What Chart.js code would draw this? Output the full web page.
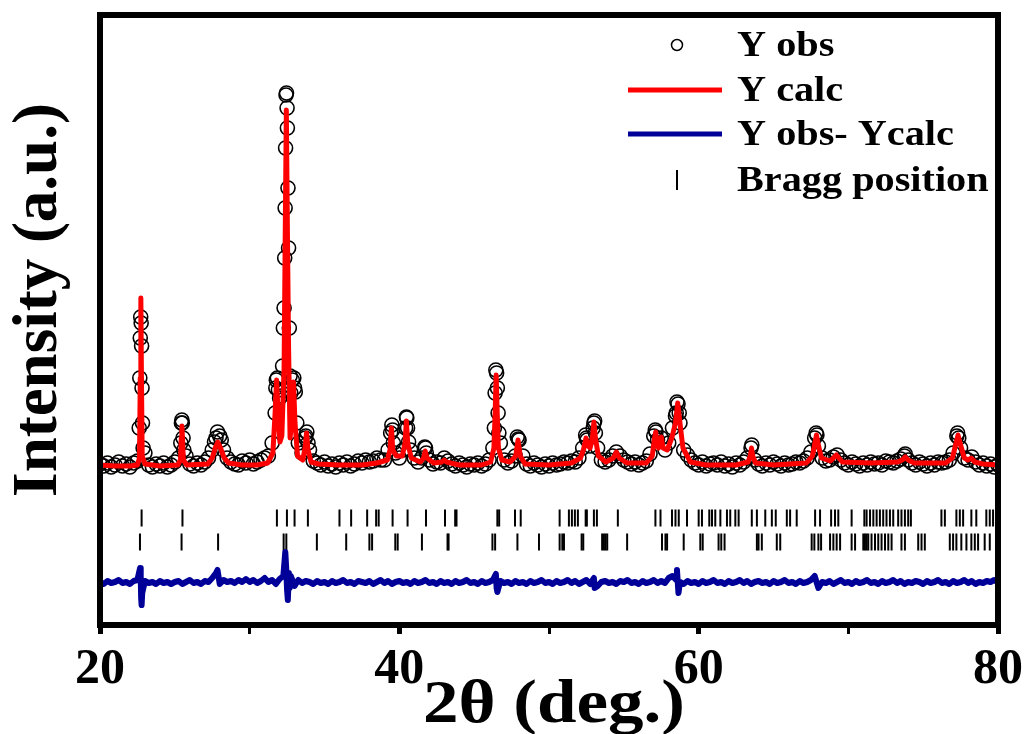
<!DOCTYPE html>
<html>
<head>
<meta charset="utf-8">
<script src="https://cdn.jsdelivr.net/npm/chart.js@4.4.0/dist/chart.umd.min.js"></script>
<style>
  html, body { margin: 0; padding: 0; background: #fff; }
</style>
</head>
<body>
<canvas id="xrdChart" width="1029" height="734"></canvas>
<script>
// scan grid for the observed and difference patterns (2theta, deg.)
const scanStart = 20;
const scanStep = 0.25;

// observed intensity on the scan grid, 20.00 .. 80.00 (10 values per row = 2.5 deg)
const obsGrid = [
  164, 162, 165, 161, 163, 166, 162, 164, 161, 165,
  167, 305, 175, 163, 161, 164, 162, 165, 161, 163,
  166, 170, 205, 172, 164, 162, 165, 163, 166, 170,
  178, 190, 192, 178, 170, 166, 164, 163, 167, 165,
  168, 164, 166, 168, 170, 172, 185, 240, 230, 300,
  520, 235, 240, 185, 175, 192, 178, 167, 165, 163,
  166, 162, 164, 161, 165, 163, 166, 162, 164, 167,
  165, 168, 166, 167, 170, 168, 168, 178, 203, 175,
  170, 178, 210, 178, 170, 166, 170, 180, 168, 164,
  166, 165, 170, 167, 164, 162, 165, 163, 161, 164,
  163, 165, 162, 164, 168, 180, 255, 185, 168, 165,
  167, 172, 188, 172, 164, 162, 165, 163, 161, 164,
  162, 165, 163, 164, 166, 165, 167, 166, 170, 180,
  190, 182, 205, 180, 168, 166, 168, 172, 176, 172,
  168, 166, 164, 166, 163, 165, 167, 174, 192, 188,
  190, 178, 185, 200, 215, 205, 178, 173, 168, 165,
  163, 166, 162, 164, 165, 163, 166, 162, 164, 161,
  165, 163, 166, 170, 180, 168, 164, 162, 165, 163,
  166, 164, 162, 165, 163, 164, 166, 165, 167, 170,
  176, 190, 182, 170, 167, 168, 171, 173, 168, 165,
  163, 166, 164, 162, 165, 163, 166, 164, 165, 163,
  167, 166, 165, 167, 169, 172, 168, 165, 163, 166,
  164, 162, 165, 163, 166, 165, 166, 168, 175, 192,
  180, 170, 168, 171, 166, 163, 165, 162, 164, 161,
  163
];

// extra observed points measured on the steep peak flanks
const obsPeaks = [
  [22.62, 200], [22.66, 250], [22.69, 290], [22.72, 311], [22.78, 282], [22.81, 240], [22.84, 205], [22.88, 180],
  [25.40, 185], [25.44, 205], [25.47, 208], [25.55, 190], [25.60, 178],
  [27.65, 186], [27.85, 196], [28.10, 188],
  [31.70, 215], [31.78, 248], [31.85, 250], [31.92, 238], [32.10, 232], [32.20, 262], [32.30, 320],
  [32.34, 370], [32.37, 420], [32.40, 480], [32.43, 533], [32.46, 535], [32.52, 500], [32.56, 440],
  [32.60, 380], [32.65, 300], [32.70, 252], [32.85, 248], [32.95, 250], [33.05, 236], [33.15, 205],
  [33.72, 190], [33.82, 196], [33.90, 185],
  [39.42, 195], [39.55, 198], [39.60, 185],
  [40.42, 200], [40.47, 211], [40.55, 200], [40.62, 186],
  [41.70, 181], [41.80, 175],
  [46.35, 200], [46.40, 235], [46.45, 258], [46.55, 240], [46.60, 215], [46.65, 195],
  [47.88, 191], [47.95, 189],
  [52.45, 193], [52.55, 188], [52.95, 200], [53.05, 207], [53.10, 195],
  [57.10, 198], [57.15, 196],
  [58.45, 212], [58.55, 226], [58.62, 224], [58.70, 215],
  [63.55, 183], [67.85, 195], [67.90, 193], [73.80, 174], [77.30, 195], [77.38, 190]
];

// calculated profile
const calcPoints = [
  [20.0, 163], [21.0, 162], [22.0, 162], [22.5, 163], [22.64, 170], [22.69, 250], [22.73, 330], [22.77, 250],
  [22.82, 172], [23.0, 164], [24.0, 162], [25.2, 163], [25.38, 168], [25.43, 190], [25.47, 202], [25.51, 190],
  [25.57, 168], [25.8, 163], [27.2, 164], [27.5, 170], [27.7, 180], [27.87, 186], [28.05, 180], [28.3, 170],
  [28.6, 165], [29.5, 163], [30.5, 163], [31.2, 165], [31.55, 175], [31.7, 215], [31.8, 248], [31.9, 215],
  [32.02, 186], [32.15, 192], [32.3, 260], [32.38, 400], [32.45, 518], [32.52, 400], [32.6, 280], [32.7, 190],
  [32.8, 205], [32.93, 246], [33.03, 205], [33.2, 172], [33.55, 168], [33.7, 180], [33.8, 195], [33.9, 178],
  [34.1, 166], [34.6, 164], [36.0, 163], [37.5, 163], [38.5, 165], [39.2, 168], [39.38, 178], [39.47, 200],
  [39.56, 178], [39.8, 172], [40.2, 172], [40.38, 185], [40.47, 207], [40.56, 185], [40.8, 170], [41.4, 166],
  [41.62, 170], [41.73, 177], [41.84, 170], [42.3, 165], [42.85, 166], [43.0, 168], [43.15, 166], [44.0, 163],
  [45.5, 163], [46.1, 166], [46.32, 180], [46.4, 215], [46.47, 253], [46.54, 215], [46.62, 180], [46.85, 168],
  [47.4, 166], [47.78, 172], [47.93, 188], [48.08, 172], [48.4, 164], [50.0, 163], [51.5, 165], [52.1, 170],
  [52.3, 178], [52.47, 190], [52.6, 182], [52.75, 180], [52.9, 190], [53.0, 206], [53.1, 190], [53.3, 172],
  [53.8, 166], [54.3, 170], [54.5, 176], [54.7, 170], [55.2, 165], [56.5, 165], [56.9, 172], [57.05, 190],
  [57.13, 196], [57.22, 185], [57.32, 180], [57.5, 191], [57.62, 180], [57.9, 178], [58.2, 190], [58.45, 205],
  [58.6, 225], [58.75, 205], [58.95, 180], [59.2, 173], [59.45, 166], [60.5, 163], [62.5, 163], [63.3, 166],
  [63.45, 172], [63.53, 180], [63.61, 172], [63.8, 165], [65.0, 163], [67.2, 165], [67.6, 172], [67.77, 185],
  [67.87, 193], [67.97, 185], [68.2, 170], [68.8, 167], [69.2, 173], [69.6, 166], [71.5, 165], [73.3, 166],
  [73.6, 168], [73.8, 171], [74.0, 168], [74.4, 165], [76.5, 165], [76.95, 170], [77.2, 185], [77.33, 193],
  [77.46, 185], [77.75, 170], [78.0, 168], [78.2, 170], [78.45, 166], [79.0, 164], [80.0, 163]
];

// difference (obs - calc), offset below the pattern, on the scan grid
const diffGrid = [
  46, 44, 47, 45, 46, 48, 45, 46, 44, 47,
  48, 30, 47, 45, 46, 44, 47, 45, 46, 44,
  46, 47, 44, 46, 48, 45, 46, 44, 47, 46,
  50, 55, 44, 48, 46, 47, 45, 48, 46, 49,
  46, 48, 45, 47, 50, 46, 48, 44, 49, 52,
  38, 52, 42, 48, 45, 47, 46, 44, 47, 45,
  46, 44, 47, 45, 46, 48, 45, 46, 44, 47,
  46, 45, 47, 44, 46, 48, 45, 47, 44, 46,
  47, 45, 46, 44, 47, 45, 46, 48, 45, 46,
  44, 47, 45, 46, 44, 47, 45, 46, 48, 45,
  46, 44, 47, 45, 46, 48, 40, 47, 45, 46,
  44, 47, 45, 46, 44, 47, 45, 46, 48, 45,
  46, 44, 47, 45, 46, 48, 45, 47, 44, 46,
  48, 44, 50, 42, 46, 47, 45, 46, 44, 47,
  46, 48, 45, 46, 44, 47, 45, 46, 48, 45,
  47, 45, 50, 52, 48, 46, 44, 47, 45, 46,
  44, 47, 45, 46, 48, 45, 46, 44, 47, 45,
  46, 48, 45, 47, 44, 46, 47, 45, 46, 44,
  47, 45, 46, 48, 45, 46, 44, 47, 45, 46,
  48, 52, 40, 46, 45, 47, 44, 46, 48, 45,
  46, 44, 47, 45, 46, 48, 45, 46, 44, 47,
  45, 46, 48, 45, 47, 44, 46, 45, 47, 46,
  44, 47, 45, 46, 48, 45, 46, 44, 47, 45,
  46, 48, 45, 47, 44, 46, 45, 47, 46, 48,
  46
];

const diffPeaks = [
  [22.68, 60], [22.72, 52], [22.78, 23], [22.82, 35],
  [27.85, 58],
  [32.38, 76], [32.44, 60], [32.55, 28], [32.62, 55], [32.68, 40],
  [46.45, 54], [46.55, 36],
  [53.05, 40],
  [58.55, 58], [58.65, 35]
];

// Bragg reflections, two phases
const braggPhase1 = [
  22.78, 25.51, 31.82, 32.49, 33.0, 33.89, 36.0, 36.78, 37.85, 38.45, 38.62, 39.55, 40.55, 41.78,
  43.05, 43.73, 43.82, 46.55, 46.67, 47.73, 48.11, 50.71, 51.33, 51.53, 51.73, 51.93, 52.45, 52.53,
  53.0, 53.2, 54.6, 57.11, 57.45, 58.22, 58.45, 58.67, 59.22, 60.0, 60.22, 60.71, 60.89, 61.11,
  61.45, 61.89, 62.11, 62.45, 62.67, 63.55, 63.89, 64.45, 64.89, 65.15, 65.89, 66.11, 66.55, 67.78,
  68.11, 68.85, 69.11, 69.33, 70.22, 71.07, 71.22, 71.45, 71.67, 71.89, 72.11, 72.33, 72.55, 72.78,
  73.0, 73.33, 73.55, 73.78, 74.0, 74.18, 76.22, 76.45, 77.22, 77.45, 77.67, 78.22, 78.55, 79.22,
  79.45, 79.67
];
const braggPhase2 = [
  22.67, 25.45, 27.89, 32.27, 32.45, 34.49, 36.45, 38.0, 38.18, 39.73, 39.89, 41.51, 43.22, 43.29,
  46.22, 46.4, 47.89, 49.33, 50.71, 50.89, 51.0, 52.18, 52.29, 53.55, 53.67, 53.78, 53.89, 55.22,
  57.55, 57.78, 57.89, 59.0, 60.11, 60.27, 61.33, 61.51, 61.73, 63.89, 64.0, 64.22, 65.22, 65.45,
  67.55, 67.73, 68.0, 68.18, 68.78, 69.0, 69.22, 69.45, 70.22, 70.45, 71.0, 71.11, 71.22, 71.33,
  71.55, 71.78, 72.0, 72.22, 72.45, 72.67, 72.89, 73.55, 73.78, 74.67, 74.89, 75.11, 76.78, 77.0,
  77.22, 77.55, 77.89, 78.22, 78.45, 78.67, 79.11, 79.45
];

const xTicks = [20, 40, 60, 80];
const legendLabels = ["Y obs", "Y calc", "Y obs- Ycalc", "Bragg position"];

const FONT = '"Liberation Serif", "Times New Roman", serif';
const RED = "#ff0000";
const BLUE = "#000099";

// tick rows sit between the pattern and the difference curve
const row1Level = 110;
const row2Level = 86;

const obsData = obsGrid.map((y, i) => ({ x: scanStart + i * scanStep, y }))
  .concat(obsPeaks.map(p => ({ x: p[0], y: p[1] })));
const diffData = diffGrid.map((y, i) => ({ x: scanStart + i * scanStep, y }))
  .concat(diffPeaks.map(p => ({ x: p[0], y: p[1] })))
  .sort((a, b) => a.x - b.x);

// frame, axis titles and legend
const decorations = {
  id: "decorations",
  afterDraw(chart) {
    const { ctx, chartArea: a } = chart;
    ctx.save();
    ctx.strokeStyle = "#000";
    ctx.lineWidth = 6;
    ctx.strokeRect(a.left, a.top, a.right - a.left, a.bottom - a.top);

    ctx.fillStyle = "#000";
    // y title
    ctx.save();
    ctx.translate(56, 300);
    ctx.rotate(-Math.PI / 2);
    ctx.font = "bold 63px " + FONT;
    ctx.textAlign = "center";
    ctx.textBaseline = "alphabetic";
    ctx.fillText("Intensity (a.u.)", 0, 0);
    ctx.restore();

    // x title
    ctx.save();
    ctx.font = "bold 62px " + FONT;
    const t = "2\u03b8 (deg.)";
    const sx = 262 / ctx.measureText(t).width;
    ctx.translate(554, 722);
    ctx.scale(sx, 1);
    ctx.textAlign = "center";
    ctx.textBaseline = "alphabetic";
    ctx.fillText(t, 0, 0);
    ctx.restore();

    // legend
    const rows = [45, 90, 134, 180];
    ctx.lineCap = "butt";
    ctx.lineWidth = 1.5;
    ctx.beginPath();
    ctx.arc(677, rows[0], 5.5, 0, Math.PI * 2);
    ctx.stroke();
    ctx.lineWidth = 5;
    ctx.strokeStyle = RED;
    ctx.beginPath(); ctx.moveTo(628, rows[1]); ctx.lineTo(722, rows[1]); ctx.stroke();
    ctx.strokeStyle = BLUE;
    ctx.beginPath(); ctx.moveTo(628, rows[2]); ctx.lineTo(722, rows[2]); ctx.stroke();
    ctx.strokeStyle = "#000";
    ctx.lineWidth = 2;
    ctx.beginPath(); ctx.moveTo(677, rows[3] - 10); ctx.lineTo(677, rows[3] + 10); ctx.stroke();

    ctx.font = "bold 35px " + FONT;
    ctx.textAlign = "left";
    ctx.textBaseline = "middle";
    legendLabels.forEach((lab, i) => {
      ctx.save();
      ctx.translate(737, rows[i] + 2);
      ctx.scale(1.15, 1);
      ctx.fillText(lab, 0, 0);
      ctx.restore();
    });
    ctx.restore();
  }
};

const ctx = document.getElementById("xrdChart").getContext("2d");
const chart = new Chart(ctx, {
  type: "scatter",
  data: {
    datasets: [
      {
        label: "Y calc",
        data: calcPoints.map(p => ({ x: p[0], y: p[1] })),
        showLine: true,
        borderColor: RED,
        borderWidth: 5,
        borderJoinStyle: "round",
        borderCapStyle: "round",
        pointRadius: 0,
        tension: 0,
        order: 0
      },
      {
        label: "Y obs",
        data: obsData,
        pointStyle: "circle",
        pointRadius: 7,
        borderColor: "#000",
        borderWidth: 1.6,
        backgroundColor: "rgba(255,255,255,0)",
        order: 1
      },
      {
        label: "Y obs- Ycalc",
        data: diffData,
        showLine: true,
        borderColor: BLUE,
        borderWidth: 6,
        borderJoinStyle: "round",
        borderCapStyle: "round",
        pointRadius: 0,
        tension: 0,
        order: 2
      },
      {
        label: "Bragg position",
        data: braggPhase1.map(x => ({ x, y: row1Level })),
        pointStyle: "line",
        rotation: 90,
        pointRadius: 8.5,
        borderColor: "#000",
        borderWidth: 2,
        order: 3
      },
      {
        label: "Bragg position",
        data: braggPhase2.map(x => ({ x, y: row2Level })),
        pointStyle: "line",
        rotation: 90,
        pointRadius: 8.5,
        borderColor: "#000",
        borderWidth: 2,
        order: 3
      }
    ]
  },
  options: {
    responsive: false,
    animation: false,
    layout: { padding: { left: 100, top: 15, right: 28, bottom: 0 } },
    plugins: {
      legend: { display: false },
      tooltip: { enabled: false }
    },
    scales: {
      x: {
        type: "linear",
        min: 20,
        max: 80,
        border: { display: true, width: 6, color: "#000" },
        grid: {
          drawOnChartArea: false,
          drawTicks: true,
          tickLength: 9,
          tickColor: "#000",
          tickWidth: c => (xTicks.includes(c.tick.value) ? 5 : 3)
        },
        ticks: {
          stepSize: 10,
          autoSkip: false,
          maxRotation: 0,
          color: "#000",
          padding: 6,
          font: { family: FONT, size: 50, weight: "bold" },
          callback: v => (xTicks.includes(v) ? v : "")
        },
        afterFit: s => { s.height = 109; }
      },
      y: { display: false, min: 3, max: 613 }
    }
  },
  plugins: [decorations]
});
</script>
</body>
</html>
